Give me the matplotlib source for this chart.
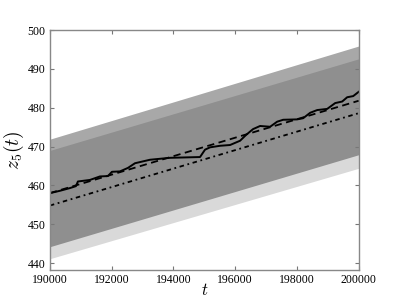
import numpy as np
import matplotlib.pyplot as plt

plt.rcParams['font.family'] = 'Liberation Serif'
plt.rcParams['mathtext.fontset'] = 'cm'

# --- DONNEES ---
t_ends = [190000, 200000]
mean_line = [458.0, 481.8]
lower_line = [454.8, 478.6]

band_a_low = [441.1, 464.4]
band_a_high = [469.0, 492.6]
band_b_low = [444.2, 467.9]
band_b_high = [471.9, 495.9]

t_path = [190000, 190324, 190648, 190843, 190908, 191297, 191621, 191880,
          192010, 192269, 192528, 192755, 193241, 193890, 194862, 195024,
          195186, 195511, 195835, 196159, 196353, 196580, 196807, 197131,
          197358, 197553, 198006, 198201, 198428, 198655, 198979, 199238,
          199465, 199627, 199822, 200000]
z_path = [458.0, 458.6, 459.3, 459.8, 461.0, 461.4, 462.3, 462.4,
          463.5, 463.6, 464.5, 465.7, 466.6, 467.1, 467.3, 469.2,
          469.8, 470.2, 470.4, 471.5, 473.0, 474.5, 475.3, 475.1,
          476.4, 476.9, 477.0, 477.3, 478.7, 479.4, 479.7, 481.2,
          481.6, 482.7, 483.0, 484.1]

x_ticks = [190000, 192000, 194000, 196000, 198000, 200000]
y_ticks = [440, 450, 460, 470, 480, 490, 500]

# --- FIGURE ---
fig = plt.figure(figsize=(3.99, 3.01), dpi=100)
ax = fig.add_axes([0.125, 0.103, 0.774, 0.797])

ax.fill_between(t_ends, band_a_low, band_a_high, color='black', alpha=0.15, lw=0)
ax.fill_between(t_ends, band_b_low, band_b_high, color='black', alpha=0.34, lw=0)

ax.plot(t_path, z_path, color='black', lw=1.4)
ax.plot(t_ends, mean_line, color='black', lw=1.3, ls='--', dashes=(4, 2.5))
ax.plot(t_ends, lower_line, color='black', lw=1.3, ls='-.', dashes=(2.5, 2, 1, 2))

ax.set_xlim(190000, 200000)
ax.set_ylim(438.2, 500)
ax.set_xticks(x_ticks)
ax.set_yticks(y_ticks)
ax.tick_params(direction='in', top=True, right=True, labelsize=8.5, length=3,
               color='#777777', pad=3)
for s in ax.spines.values():
    s.set_color('#888888')
    s.set_linewidth(1.0)

ax.set_xlabel('$t$', fontsize=12, labelpad=-2)
ax.set_ylabel('$z_5(t)$', fontsize=14, labelpad=1)

plt.savefig('out.png')
